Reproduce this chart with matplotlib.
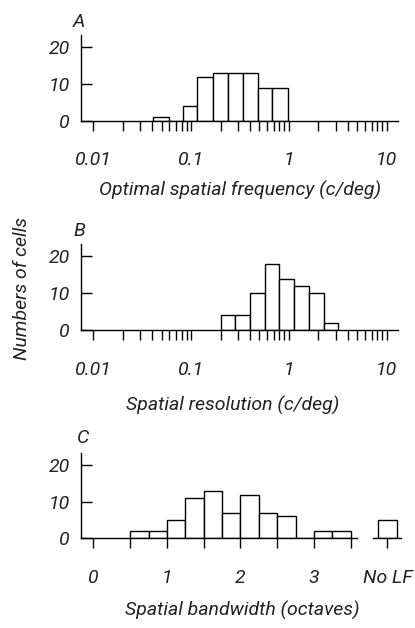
import numpy as np
import matplotlib
matplotlib.use("Agg")
import matplotlib.pyplot as plt
from matplotlib.ticker import FixedLocator, NullFormatter

plt.rcParams['font.family'] = ['Roboto', 'DejaVu Sans']
plt.rcParams['font.style'] = 'italic'

# panel A: optimal spatial frequency (c/deg), half-octave bins
a_edges = [0.0412, 0.0589, 0.0828, 0.1154, 0.166, 0.237, 0.338, 0.483, 0.673, 0.977]
a_counts = [1, 0, 4, 12, 13, 13, 13, 9, 9]

# panel B: spatial resolution (c/deg)
b_edges = [0.2, 0.283, 0.4, 0.566, 0.8, 1.13, 1.6, 2.26, 3.2]
b_counts = [4, 4, 10, 18, 14, 12, 10, 2]

# panel C: spatial bandwidth (octaves), plus "No LF" group
c_edges = [0.5, 0.75, 1.0, 1.25, 1.5, 1.75, 2.0, 2.25, 2.5, 2.75, 3.0, 3.25, 3.5]
c_counts = [2, 2, 5, 11, 13, 7, 12, 7, 6, 0, 2, 2]
nolf_count = 5

log_ticks = [0.01, 0.1, 1, 10]
log_labels = ['0.01', '0.1', '1', '10']
log_minor = [m * d for d in [0.01, 0.1, 1] for m in range(2, 10)]
c_ticks = [0, 1, 2, 3, 4]
c_labels = ['0', '1', '2', '3', 'No LF']
c_minor = [0.5, 1.5, 2.5, 3.5]

W, H = 415, 628
fig = plt.figure(figsize=(W / 100, H / 100), dpi=100)
FS = 14
LW = 1.0
TC = '#222222'

def px_axes(left, right, base, top):
    return fig.add_axes([left / W, 1 - base / H, (right - left) / W, (base - top) / H])

def style(ax):
    for s in ['top', 'right']:
        ax.spines[s].set_visible(False)
    for s in ['left', 'bottom']:
        ax.spines[s].set_linewidth(LW)
    ax.set_yticks([0, 10, 20])
    ax.set_ylim(0, 23.4)
    ax.tick_params(axis='y', direction='in', length=8, width=LW, pad=8, labelsize=FS, labelcolor=TC)
    ax.tick_params(axis='x', which='both', direction='out', length=7, width=LW, pad=15, labelsize=FS, labelcolor=TC)
    ax.patch.set_visible(False)

def draw_bars(ax, edges, counts):
    left = np.array(edges[:-1])
    width = np.diff(edges)
    ax.bar(left, counts, width=width, align='edge', color='white', edgecolor='black', linewidth=LW)

# A and B: log axes
panels = [
    (120.7, 35, a_edges, a_counts, 'A', 'Optimal spatial frequency (c/deg)', 240, 190),
    (330.0, 244, b_edges, b_counts, 'B', 'Spatial resolution (c/deg)', 233, 405),
]
for base, top, edges, counts, letter, xlabel, lx, ly in panels:
    ax = px_axes(81, 398, base, top)
    ax.set_xscale('log')
    draw_bars(ax, edges, counts)
    ax.set_xlim(0.00748, 13.06)
    ax.set_xticks(log_ticks)
    ax.set_xticklabels(log_labels)
    ax.xaxis.set_minor_locator(FixedLocator(log_minor))
    ax.xaxis.set_minor_formatter(NullFormatter())
    style(ax)
    fig.text(79 / W, 1 - (top - 13) / H, letter, fontsize=FS, color=TC, ha='center', va='center')
    fig.text(lx / W, 1 - ly / H, xlabel, fontsize=FS, color=TC, ha='center', va='center')

# C: linear axis with a separate "No LF" bar
ax = px_axes(81, 400.7, 538.3, 453)
draw_bars(ax, c_edges, c_counts)
ax.bar(4, nolf_count, width=0.26, color='white', edgecolor='black', linewidth=LW)
ax.set_xlim(-0.17, 4.18)
ax.set_xticks(c_ticks)
ax.set_xticklabels(c_labels)
ax.set_xticks(c_minor, minor=True)
style(ax)
ax.spines['bottom'].set_bounds(-0.17, 3.58)
ax.plot([3.8, 4.18], [0, 0], color='black', lw=LW, clip_on=False)
fig.text(83 / W, 1 - 438 / H, 'C', fontsize=FS, color=TC, ha='center', va='center')
fig.text(242 / W, 1 - 610 / H, 'Spatial bandwidth (octaves)', fontsize=FS, color=TC, ha='center', va='center')

fig.text(22 / W, 1 - 288 / H, 'Numbers of cells', fontsize=FS, color=TC, rotation=90, ha='center', va='center')

fig.savefig('out.png', dpi=100)
